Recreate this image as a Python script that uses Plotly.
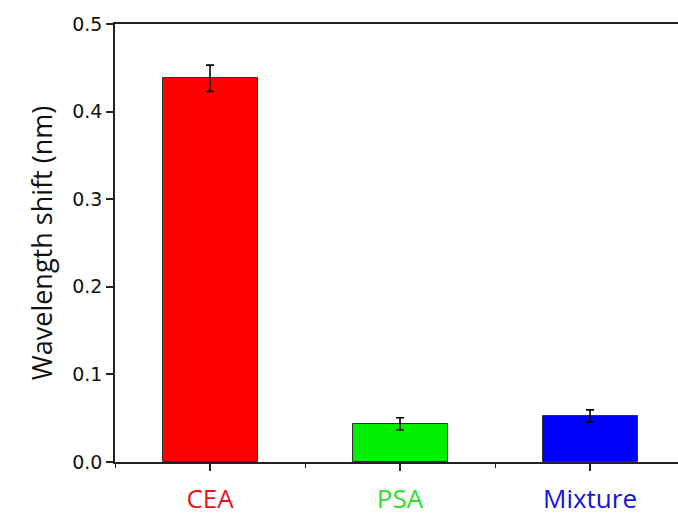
import plotly.graph_objects as go

# Data
categories = ["CEA", "PSA", "Mixture"]
shift_nm = [0.438, 0.0435, 0.0525]
shift_err = [0.015, 0.007, 0.007]
bar_colors = ["#ff0000", "#00ee00", "#0000ff"]
label_colors = ["#e8141c", "#2fdc2f", "#1414d8"]
y_ticks = [0.0, 0.1, 0.2, 0.3, 0.4, 0.5]

x_pos = list(range(len(categories)))
tick_text = [f"<span style='color:{c}'>{name}</span>" for name, c in zip(categories, label_colors)]

fig = go.Figure(
    go.Bar(
        x=x_pos,
        y=shift_nm,
        width=0.5,
        marker=dict(color=bar_colors, line=dict(color="#333333", width=1)),
        error_y=dict(type="data", array=shift_err, color="black", thickness=1.6, width=4),
    )
)

fig.update_layout(
    width=678,
    height=515,
    margin=dict(l=115, r=0, t=24, b=53),
    paper_bgcolor="white",
    plot_bgcolor="white",
    showlegend=False,
    bargap=0,
)

fig.update_xaxes(
    range=[-0.5, 2.463],
    tickvals=x_pos,
    ticktext=tick_text,
    ticks="outside",
    ticklen=7,
    tickwidth=1.5,
    tickcolor="#222222",
    ticklabelstandoff=6,
    minor=dict(tick0=0.5, dtick=1, ticks="outside", ticklen=4, tickwidth=1.2, tickcolor="#222222"),
    showline=True,
    linecolor="#222222",
    linewidth=1.6,
    mirror=True,
    showgrid=False,
    zeroline=False,
    automargin=False,
    tickfont=dict(family="Open Sans", size=26),
)

fig.update_yaxes(
    range=[0, 0.5],
    tickvals=y_ticks,
    ticktext=[f"{v:.1f}" for v in y_ticks],
    ticks="outside",
    ticklen=7,
    tickwidth=1.5,
    tickcolor="#222222",
    showline=True,
    linecolor="#222222",
    linewidth=1.6,
    showgrid=False,
    zeroline=False,
    automargin=False,
    tickfont=dict(family="DejaVu Sans", size=19, color="#111111"),
    title=dict(text="Wavelength shift (nm)", font=dict(family="Open Sans", size=27, color="#111111"), standoff=12),
)

fig.write_html("out.html")
